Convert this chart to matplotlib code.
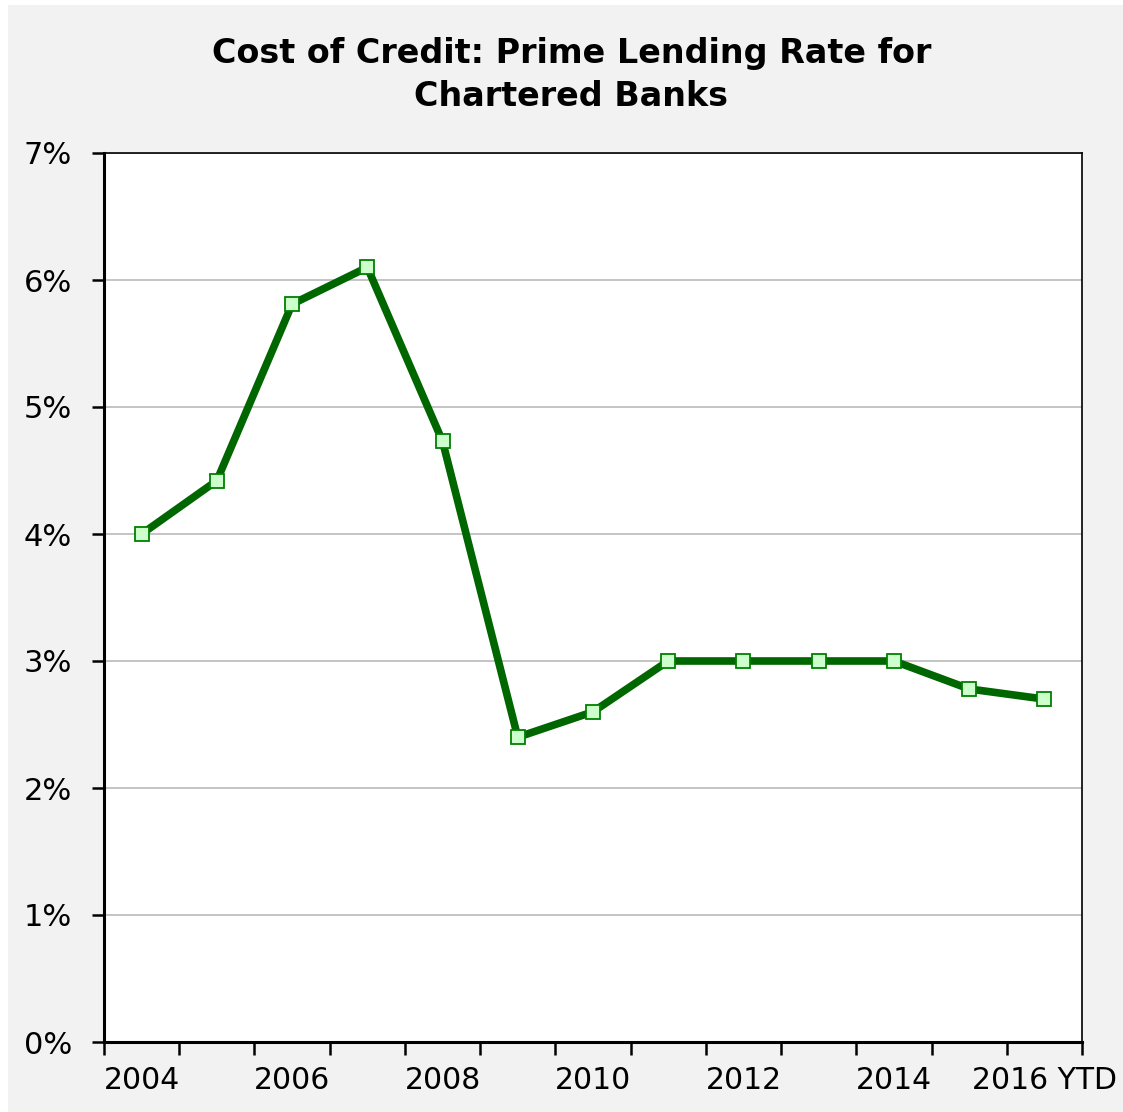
import matplotlib
matplotlib.use("Agg")
import matplotlib.pyplot as plt
from matplotlib.patches import Rectangle
from matplotlib.ticker import FixedLocator, FuncFormatter

# Prime lending rate for chartered banks, annual averages (%)
years = ["2004", "2005", "2006", "2007", "2008", "2009", "2010",
         "2011", "2012", "2013", "2014", "2015", "2016 YTD"]
rates = [4.00, 4.42, 5.81, 6.10, 4.73, 2.40, 2.60,
         3.00, 3.00, 3.00, 3.00, 2.78, 2.70]
y_ticks = [0, 1, 2, 3, 4, 5, 6, 7]

W, H = 1123, 1112
fig = plt.figure(figsize=(W / 100, H / 100), dpi=100)
fig.patch.set_facecolor("white")
fig.add_artist(Rectangle((8 / W, 0), 1 - 8 / W, 1 - 5 / H,
                         transform=fig.transFigure, facecolor="#f2f2f2",
                         edgecolor="none", zorder=-10))

ax = fig.add_axes([104 / W, 1 - 1042 / H, (1082 - 104) / W, (1042 - 153) / H])
ax.set_facecolor("white")

x = list(range(len(years)))
ax.plot(x, rates, color="#006600", linewidth=5.5, solid_joinstyle="miter",
        marker="s", markersize=10, markerfacecolor="#ccffcc",
        markeredgecolor="#008000", markeredgewidth=1.3, zorder=3)

ax.set_xlim(-0.5, len(years) - 0.5)
ax.set_ylim(0, 7)

# y axis
ax.yaxis.set_major_locator(FixedLocator(y_ticks))
ax.yaxis.set_major_formatter(FuncFormatter(lambda v, p: f"{int(v)}%"))
ax.grid(axis="y", color="#c4c4c4", linewidth=1.4, zorder=0)
ax.set_axisbelow(True)

# x axis: ticks between categories, labels on every other category
ax.set_xticks([i - 0.5 for i in range(len(years) + 1)])
ax.set_xticklabels([])
ax.set_xticks(x[::2], minor=True)
ax.set_xticklabels(years[::2], minor=True)
ax.tick_params(axis="x", which="minor", length=0, pad=17)
ax.tick_params(axis="x", which="major", length=9, width=1.8, direction="out")
ax.tick_params(axis="y", length=9, width=1.8, direction="out", pad=14)

for lab in ax.get_xticklabels(minor=True) + ax.get_yticklabels():
    lab.set_fontsize(22)
    lab.set_fontfamily("DejaVu Sans")
    lab.set_color("black")
for lab in ax.get_xticklabels(minor=True):
    lab.set_fontsize(21.5)

for side in ("left", "bottom"):
    ax.spines[side].set_linewidth(2.2)
for side in ("top", "right"):
    ax.spines[side].set_linewidth(1.2)
for s in ax.spines.values():
    s.set_color("black")

fig.text(0.5 + 10 / W, 1 - 75 / H, "Cost of Credit: Prime Lending Rate for\nChartered Banks",
         ha="center", va="center", fontsize=24, fontweight="bold",
         family="DejaVu Sans", linespacing=1.4)

fig.savefig("out.png", dpi=100, facecolor=fig.get_facecolor())
